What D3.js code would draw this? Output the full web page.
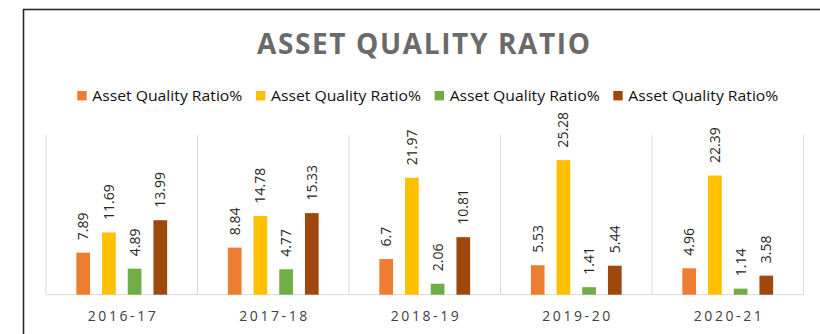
<!DOCTYPE html>
<html>
<head>
<meta charset="utf-8">
<script src="https://cdn.jsdelivr.net/npm/d3@7"></script>
<style>
  html, body { margin: 0; padding: 0; background: #fff; }
  svg { display: block; }
</style>
</head>
<body>
<script>
// Asset quality ratio, grouped columns per financial year
const categories = ["2016-17", "2017-18", "2018-19", "2019-20", "2020-21"];
const seriesNames = ["Asset Quality Ratio%", "Asset Quality Ratio%", "Asset Quality Ratio%", "Asset Quality Ratio%"];
const seriesColors = ["#ED7D31", "#FFC000", "#70AD47", "#9E480E"];
const series1 = [7.89, 8.84, 6.7, 5.53, 4.96];
const series2 = [11.69, 14.78, 21.97, 25.28, 22.39];
const series3 = [4.89, 4.77, 2.06, 1.41, 1.14];
const series4 = [13.99, 15.33, 10.81, 5.44, 3.58];
const seriesValues = [series1, series2, series3, series4];
const titleText = "ASSET QUALITY RATIO";

const W = 820, H = 334;
const svg = d3.select("body").append("svg").attr("width", W).attr("height", H);

// chart frame
svg.append("rect")
  .attr("x", 23.5).attr("y", 9.5)
  .attr("width", 900).attr("height", 400)
  .attr("fill", "#fff").attr("stroke", "#2a2a2a").attr("stroke-width", 1.6);

// title
svg.append("text")
  .attr("x", 257).attr("y", 54)
  .attr("font-family", "'Open Sans', sans-serif")
  .attr("font-weight", 700).attr("font-size", 28)
  .attr("fill", "#6a6a6a")
  .attr("textLength", 333).attr("lengthAdjust", "spacing")
  .text(titleText);

// legend
const legendX = d3.scaleLinear().domain([0, 3]).range([77.3, 613.3]);
const legend = svg.append("g");
seriesNames.forEach((name, i) => {
  const g = legend.append("g").attr("transform", `translate(${legendX(i)},0)`);
  g.append("rect").attr("x", 0).attr("y", 91).attr("width", 9.4).attr("height", 9.4).attr("fill", seriesColors[i]);
  g.append("text")
    .attr("x", 15).attr("y", 101)
    .attr("font-family", "'Open Sans', sans-serif").attr("font-size", 14.5)
    .attr("fill", "#111")
    .attr("textLength", 150).attr("lengthAdjust", "spacingAndGlyphs")
    .text(name);
});

// plot area
const plotLeft = 46, plotRight = 803.5, plotTop = 135, plotBottom = 294.7;
const x0 = d3.scaleBand().domain(categories).range([plotLeft, plotRight]).paddingInner(0).paddingOuter(0);
const groupWidth = 102.8;
const x1 = d3.scaleBand().domain(d3.range(seriesValues.length)).range([0, groupWidth]).paddingInner(0.467).paddingOuter(0.2335);
const y = d3.scaleLinear().domain([0, 30]).range([plotBottom, plotTop]);

// vertical category separators and baseline
const grid = svg.append("g").attr("stroke", "#d9d9d9").attr("stroke-width", 1);
categories.concat([null]).forEach((c, i) => {
  const xx = c === null ? plotRight : x0(c);
  grid.append("line").attr("x1", xx).attr("x2", xx).attr("y1", plotTop).attr("y2", plotBottom);
});
grid.append("line").attr("x1", plotLeft).attr("x2", plotRight).attr("y1", plotBottom).attr("y2", plotBottom);

// bars and rotated value labels
const groupOffset = (x0.bandwidth() - groupWidth) / 2;
const groups = svg.append("g").selectAll("g")
  .data(categories)
  .join("g")
  .attr("transform", d => `translate(${x0(d) + groupOffset},0)`);

groups.selectAll("rect")
  .data((c, ci) => seriesValues.map((vals, si) => ({ si, v: vals[ci] })))
  .join("rect")
  .attr("x", d => x1(d.si))
  .attr("y", d => y(d.v))
  .attr("width", x1.bandwidth())
  .attr("height", d => y(0) - y(d.v))
  .attr("fill", d => seriesColors[d.si]);

groups.selectAll("text")
  .data((c, ci) => seriesValues.map((vals, si) => ({ si, v: vals[ci] })))
  .join("text")
  .attr("transform", d => `translate(${x1(d.si) + x1.bandwidth() / 2},${y(d.v) - 12.5}) rotate(-90)`)
  .attr("dy", "0.36em")
  .attr("text-anchor", "start")
  .attr("font-family", "'Open Sans', sans-serif").attr("font-size", 14)
  .attr("fill", "#262626")
  .text(d => String(d.v));

// category axis labels
svg.append("g").selectAll("text")
  .data(categories)
  .join("text")
  .attr("x", d => x0(d) + x0.bandwidth() / 2 - 34)
  .attr("y", 321)
  .attr("font-family", "'Open Sans', sans-serif").attr("font-size", 14)
  .attr("fill", "#404040")
  .attr("textLength", 68).attr("lengthAdjust", "spacing")
  .text(d => d);
</script>
</body>
</html>
